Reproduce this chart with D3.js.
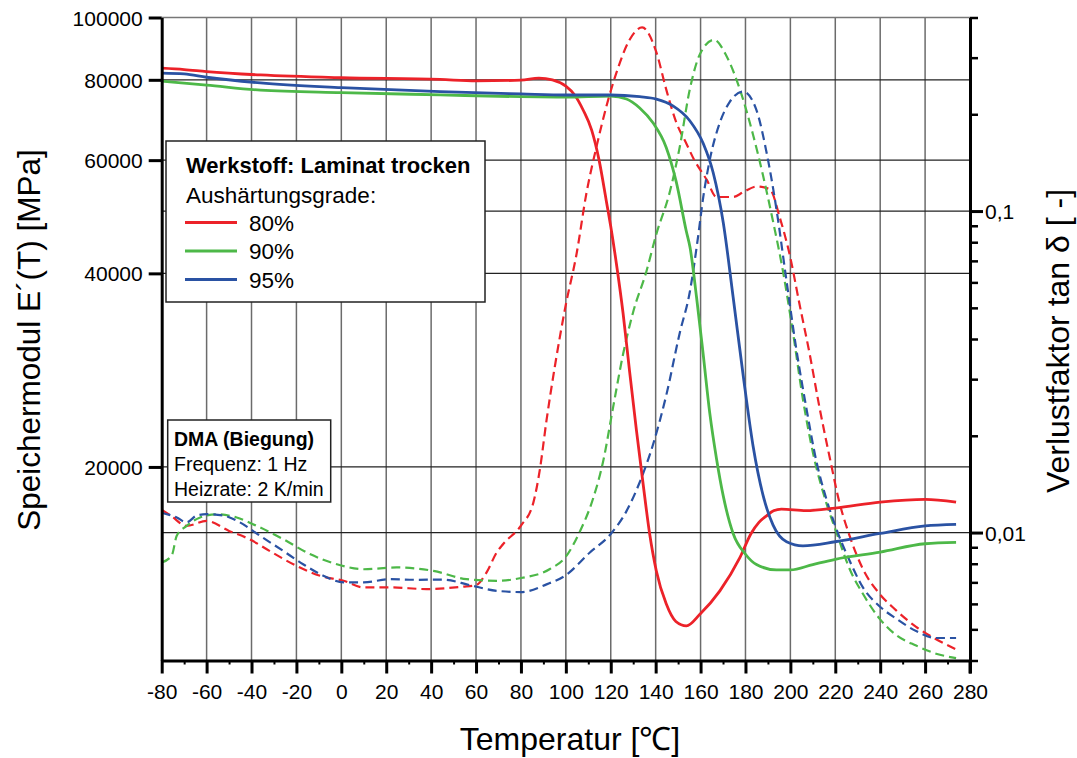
<!DOCTYPE html>
<html>
<head>
<meta charset="utf-8">
<script src="https://cdn.jsdelivr.net/npm/d3@7/dist/d3.min.js"></script>
<style>
  body { margin: 0; background: #fff; }
  svg { font-family: "Liberation Sans", Arial, Helvetica, sans-serif; }
</style>
</head>
<body>
<div id="chart_container"></div>
<script>
// DMA chart: storage modulus (solid, left log axis) and tan delta (dashed, right log axis)

// storage modulus E'(T) [MPa], pairs of [temperature, value]
const mod80 = [[-80, 83400], [-70, 83000], [-60, 82400], [-36, 81400], [0, 80600], [44, 80100], [60, 79700],
  [80, 79900], [88, 80500], [94, 80000], [100, 78200], [104, 75700], [107.7, 71800], [111.5, 66800], [114.8, 60000],
  [118, 51900], [120, 47300], [122.5, 41450], [125.5, 34650], [128.4, 28130], [131.4, 22860], [134.4, 18830],
  [137.3, 15760], [140.3, 13780], [144.7, 12250], [149, 11500], [153.7, 11320], [159.7, 11800], [168.6, 12830],
  [177.5, 14450], [182.5, 15760], [186, 16400], [189.4, 16790], [192.5, 17100], [196, 17200], [207, 17100],
  [220, 17260], [240, 17630], [260, 17810], [273.8, 17630]];

const mod90 = [[-80, 79600], [-60, 78500], [-36, 77100], [0, 76400], [44, 75800], [80, 75300], [100, 75200],
  [120, 75500], [127, 74700], [132.9, 72340], [138.8, 68580], [144.7, 62790], [149.2, 55450], [153.6, 46600],
  [155.3, 43920], [158.2, 36750], [161.2, 29860], [164.1, 24250], [167.1, 20600], [170.1, 18030], [174.5, 15760],
  [180, 14630], [184.9, 14100], [193.8, 13830], [200, 13830], [210, 14100], [220, 14370], [240, 14740],
  [260, 15190], [273.8, 15260]];

const mod95 = [[-80, 81960], [-70, 81700], [-60, 80740], [-36, 79130], [0, 77800], [44, 76660], [80, 76060],
  [100, 75770], [120, 75770], [132.9, 75300], [140.3, 74680], [147.7, 72880], [155.2, 69100], [161.2, 63670],
  [165.6, 57400], [170.1, 48000], [174.5, 36750], [179, 27720], [183.4, 21540], [187.9, 18030], [192.3, 16240],
  [198.3, 15300], [205.6, 15080], [220, 15300], [240, 15760], [260, 16190], [273.8, 16280]];

// loss factor tan delta [-]
const tan80 = [[-80, 0.01176], [-76, 0.0113], [-69, 0.01049], [-60, 0.01087], [-50, 0.01012], [-41, 0.00954],
  [-32, 0.00877], [-20, 0.00788], [-9.5, 0.00734], [1, 0.00708], [10, 0.00675], [22, 0.00675], [38, 0.00667],
  [54, 0.00679], [60, 0.00686], [64.7, 0.00752], [69.2, 0.00867], [72, 0.0092], [80, 0.01051], [85.5, 0.01237],
  [88.4, 0.01567], [91.4, 0.02236], [95.1, 0.03286], [100, 0.0512], [104.7, 0.0731], [109.2, 0.114], [113.6, 0.158],
  [118.1, 0.2122], [122.5, 0.269], [128.4, 0.341], [134, 0.3726], [140.3, 0.312], [144.7, 0.239], [149.2, 0.1885],
  [153.6, 0.1626], [157, 0.145], [162.7, 0.1252], [167.1, 0.1106], [174.5, 0.1106], [179, 0.1145], [185, 0.1192],
  [190.8, 0.117], [195.3, 0.0954], [199.7, 0.0731], [204.1, 0.0512], [208.6, 0.0359], [213, 0.02443],
  [217.5, 0.01714], [221.9, 0.01237], [226.4, 0.00976], [232.3, 0.0077], [239.7, 0.00645], [247.1, 0.00573],
  [256, 0.00509], [264.9, 0.00466], [273.8, 0.00433]];

const tan90 = [[-80, 0.00807], [-75.5, 0.0085], [-73.3, 0.00977], [-68.9, 0.01049], [-62.9, 0.01114], [-55.5, 0.0114],
  [-46.6, 0.01114], [-37.7, 0.01049], [-25.9, 0.00954], [-14, 0.00857], [-2, 0.00797], [10, 0.00769], [24.6, 0.00779],
  [41, 0.0076], [55.8, 0.00716], [69.2, 0.00708], [80, 0.00722], [92.9, 0.0077], [100, 0.00842], [106.2, 0.01006],
  [112.1, 0.01274], [116.6, 0.01663], [121, 0.02443], [125.5, 0.0359], [129.9, 0.0483], [135.9, 0.065],
  [140.3, 0.0848], [146.2, 0.114], [150.7, 0.158], [155.2, 0.239], [159.7, 0.3075], [166, 0.341], [171.6, 0.303],
  [177.5, 0.239], [183.4, 0.1725], [187.9, 0.1283], [192.3, 0.0927], [196.7, 0.065], [201.2, 0.0417],
  [205.6, 0.02594], [210.1, 0.01766], [216, 0.01237], [220.4, 0.01006], [226.4, 0.0077], [232.3, 0.00645],
  [239.7, 0.0054], [247.1, 0.0048], [256, 0.00445], [264.9, 0.0042], [273.8, 0.00407]];

const tan95 = [[-80, 0.01153], [-73.3, 0.01114], [-68.9, 0.01076], [-64.4, 0.0113], [-60, 0.01141], [-52.6, 0.0113],
  [-45.2, 0.01076], [-36.2, 0.00977], [-25.9, 0.00877], [-17, 0.00797], [-8, 0.00734], [1, 0.007], [10, 0.007],
  [21.7, 0.00716], [33.6, 0.00713], [45.4, 0.00714], [57.3, 0.00686], [69.2, 0.00659], [80, 0.00653], [91.4, 0.0069],
  [100, 0.00737], [110.7, 0.00867], [120, 0.0099], [127, 0.01166], [132.9, 0.01434], [138.8, 0.01875], [144.7, 0.0267],
  [150.7, 0.0417], [155.2, 0.056], [158.8, 0.0823], [161.2, 0.1106], [164.1, 0.1443], [168.6, 0.1885], [173, 0.2186],
  [179, 0.2355], [184.9, 0.206], [189.3, 0.1533], [193.8, 0.1013], [198.2, 0.0612], [202.7, 0.037], [207.1, 0.02443],
  [211.6, 0.01663], [216, 0.01274], [220.4, 0.0103], [226.4, 0.00817], [232.3, 0.00675], [239.7, 0.0059],
  [247.1, 0.0054], [256, 0.00494], [264.9, 0.0047], [273.8, 0.0047]];

const seriesNames = ["80%", "90%", "95%"];
const seriesColors = ["#ec2229", "#4db848", "#2a52a3"];
const modSeries = [mod80, mod90, mod95];
const tanSeries = [tan80, tan90, tan95];

const tempTicks = d3.range(-80, 281, 20);
const tempMinorTicks = d3.range(-70, 271, 20);
const modTicks = [20000, 40000, 60000, 80000, 100000];
const tanTicks = [0.01, 0.1];
const tanMinorTicks = [0.004, 0.005, 0.006, 0.007, 0.008, 0.009, 0.02, 0.03, 0.04, 0.05, 0.06, 0.07, 0.08, 0.09, 0.2, 0.3, 0.4];

const legendTitle = "Werkstoff: Laminat trocken";
const legendSubtitle = "Aushärtungsgrade:";
const infoLines = ["DMA (Biegung)", "Frequenz: 1 Hz", "Heizrate: 2 K/min"];

let svgWidth = 1077;
let svgHeight = 758;
let plotLeft = 161.7, plotRight = 970, plotTop = 17.5, plotBottom = 660.5;

let svg = d3.select("#chart_container")
  .append("svg")
  .attr("width", svgWidth)
  .attr("height", svgHeight);

let xScale = d3.scaleLinear().domain([-80, 280]).range([plotLeft, plotRight]);
let yLeft = d3.scaleLog().domain([10000, 100000]).range([plotBottom, plotTop]);
let yRight = d3.scaleLog().domain([0.004, 0.4]).range([plotBottom, plotTop]);

// grid
let grid = svg.append("g");
grid.selectAll(".vgrid")
  .data(tempTicks.filter(t => t > -80 && t < 280))
  .enter().append("line")
  .attr("x1", d => xScale(d)).attr("x2", d => xScale(d))
  .attr("y1", plotTop).attr("y2", plotBottom)
  .attr("stroke", "#6b6b6b").attr("stroke-width", 1.5);

grid.selectAll(".hgridL")
  .data(modTicks)
  .enter().append("line")
  .attr("x1", plotLeft).attr("x2", plotRight)
  .attr("y1", d => yLeft(d)).attr("y2", d => yLeft(d))
  .attr("stroke", d => d === 100000 ? "#777" : "#222").attr("stroke-width", d => d === 100000 ? 1.5 : 1.2);

grid.selectAll(".hgridR")
  .data(tanTicks)
  .enter().append("line")
  .attr("x1", plotLeft).attr("x2", plotRight)
  .attr("y1", d => yRight(d)).attr("y2", d => yRight(d))
  .attr("stroke", "#222").attr("stroke-width", 1.2);

// curves
svg.append("clipPath").attr("id", "plotclip")
  .append("rect")
  .attr("x", plotLeft).attr("y", plotTop)
  .attr("width", plotRight - plotLeft).attr("height", plotBottom - plotTop);

let curves = svg.append("g").attr("clip-path", "url(#plotclip)");

let modLine = d3.line()
  .x(d => xScale(d[0]))
  .y(d => yLeft(d[1]))
  .curve(d3.curveMonotoneX);

let tanLine = d3.line()
  .x(d => xScale(d[0]))
  .y(d => yRight(d[1]))
  .curve(d3.curveMonotoneX);

tanSeries.forEach((data, i) => {
  curves.append("path")
    .attr("d", tanLine(data))
    .attr("fill", "none")
    .attr("stroke", seriesColors[i])
    .attr("stroke-width", 2.2)
    .attr("stroke-dasharray", "9,5");
});

modSeries.forEach((data, i) => {
  curves.append("path")
    .attr("d", modLine(data))
    .attr("fill", "none")
    .attr("stroke", seriesColors[i])
    .attr("stroke-width", 2.8);
});

// axes
function styleAxis(g, width) {
  g.selectAll("path.domain").attr("stroke", "#000").attr("stroke-width", width);
  g.selectAll(".tick line").attr("stroke", "#000").attr("stroke-width", width);
  g.selectAll(".tick text").attr("fill", "#000").attr("font-size", 21)
    .attr("font-family", "'Liberation Sans', Arial, sans-serif");
}

let leftAxis = svg.append("g")
  .attr("transform", "translate(" + plotLeft + ",0)")
  .call(d3.axisLeft(yLeft).tickValues(modTicks).tickFormat(d => String(d)).tickSize(13).tickSizeOuter(0).tickPadding(6));
styleAxis(leftAxis, 3);
leftAxis.selectAll(".tick text").attr("dy", "0.36em");

let bottomMinor = svg.append("g")
  .attr("transform", "translate(0," + plotBottom + ")")
  .call(d3.axisBottom(xScale).tickValues(tempMinorTicks).tickFormat("").tickSize(4).tickSizeOuter(0));
styleAxis(bottomMinor, 2);

let bottomAxis = svg.append("g")
  .attr("transform", "translate(0," + plotBottom + ")")
  .call(d3.axisBottom(xScale).tickValues(tempTicks).tickFormat(d => String(d)).tickSize(13).tickSizeOuter(0).tickPadding(11));
styleAxis(bottomAxis, 3);

let rightMinor = svg.append("g")
  .attr("transform", "translate(" + plotRight + ",0)")
  .call(d3.axisRight(yRight).tickValues(tanMinorTicks).tickFormat("").tickSize(8).tickSizeOuter(0));
styleAxis(rightMinor, 2.5);

let rightAxis = svg.append("g")
  .attr("transform", "translate(" + plotRight + ",0)")
  .call(d3.axisRight(yRight).tickValues(tanTicks).tickFormat(d => String(d).replace(".", ",")).tickSize(13).tickSizeOuter(0).tickPadding(2));
styleAxis(rightAxis, 3);
rightAxis.selectAll(".tick text").attr("dy", "0.36em");

// extend the right axis down to the bottom tick length
svg.append("line")
  .attr("x1", plotRight).attr("x2", plotRight)
  .attr("y1", plotBottom).attr("y2", plotBottom + 13)
  .attr("stroke", "#000").attr("stroke-width", 3);

// axis titles
svg.append("text")
  .attr("transform", "translate(40," + ((plotTop + plotBottom) / 2 + 1) + ") rotate(-90)")
  .attr("text-anchor", "middle")
  .attr("font-size", 31.5)
  .text("Speichermodul E´(T) [MPa]");

svg.append("text")
  .attr("transform", "translate(1069," + ((plotTop + plotBottom) / 2 + 2) + ") rotate(-90)")
  .attr("text-anchor", "middle")
  .attr("font-size", 32)
  .text("Verlustfaktor tan δ [ -]");

svg.append("text")
  .attr("x", 570)
  .attr("y", 750)
  .attr("text-anchor", "middle")
  .attr("font-size", 32)
  .text("Temperatur [℃]");

// legend box
let legend = svg.append("g");
legend.append("rect")
  .attr("x", 166).attr("y", 141).attr("width", 319).attr("height", 161)
  .attr("fill", "#fff").attr("stroke", "#222").attr("stroke-width", 1.5);
legend.append("text")
  .attr("x", 186).attr("y", 173)
  .attr("font-size", 22).attr("font-weight", "bold")
  .text(legendTitle);
legend.append("text")
  .attr("x", 186).attr("y", 203)
  .attr("font-size", 22.5)
  .text(legendSubtitle);

seriesNames.forEach((name, i) => {
  let y = 222.5 + i * 28.5;
  legend.append("line")
    .attr("x1", 185).attr("x2", 237)
    .attr("y1", y).attr("y2", y)
    .attr("stroke", seriesColors[i]).attr("stroke-width", 2.8);
  legend.append("text")
    .attr("x", 249).attr("y", y + 8)
    .attr("font-size", 22.5)
    .text(name);
});

// info box
let info = svg.append("g");
info.append("rect")
  .attr("x", 167.7).attr("y", 420).attr("width", 163).attr("height", 82)
  .attr("fill", "#fff").attr("stroke", "#222").attr("stroke-width", 1.5);
infoLines.forEach((line, i) => {
  info.append("text")
    .attr("x", 174).attr("y", 446 + i * 25)
    .attr("font-size", 19.5)
    .attr("font-weight", i === 0 ? "bold" : "normal")
    .text(line);
});
</script>
</body>
</html>
